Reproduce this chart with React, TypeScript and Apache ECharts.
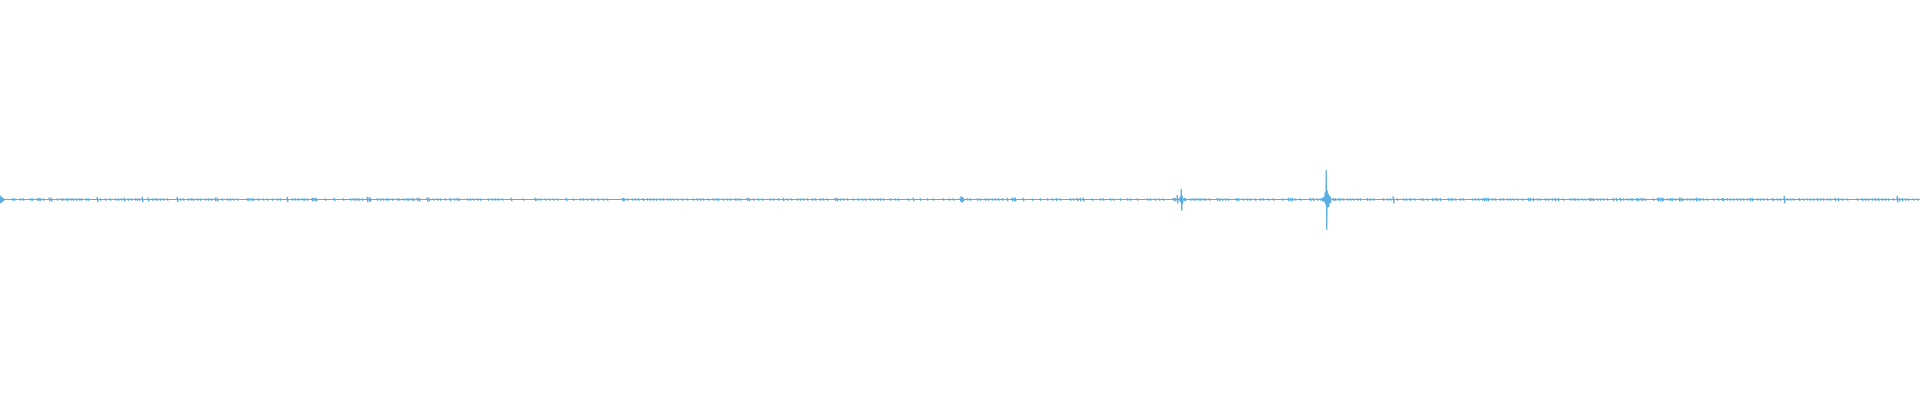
import React, { useEffect, useRef } from 'react';
import * as echarts from 'echarts';

// small blips, swing of about one pixel each way (x in samples)
const tinyBlips = [
  12, 14, 20, 23, 30, 32, 37, 38, 39, 40, 43, 57, 61, 63, 66, 68, 71, 73, 76, 79, 81, 86, 88,
  100, 105, 110, 115, 118, 121, 128, 131, 135, 137, 139, 152, 155, 157, 160, 163, 167, 180,
  183, 188, 191, 193, 197, 200, 205, 208, 211, 222, 227, 230, 233, 237, 247, 248, 250, 252,
  253, 258, 263, 267, 272, 277, 280, 292, 295, 298,
  302, 304, 307, 325, 343, 350, 353, 355, 357, 359, 362, 377, 380, 383, 386, 388, 392, 397,
  399, 403, 406, 408, 411, 433, 437, 440, 445, 454, 459, 467, 470, 473, 477, 480, 488, 492,
  495, 498, 502, 523, 537, 540, 545, 549, 553, 557, 573, 580, 583, 587, 591, 593, 598,
  603, 607, 622, 624, 627, 632, 635, 638, 647, 650, 653, 656, 660, 663, 667, 670, 673, 677,
  682, 687, 693, 697, 700, 703, 708, 713, 716, 718, 723, 727, 730, 735, 737, 740, 753, 758,
  762, 770, 773, 778, 787, 791, 797, 800, 803, 807, 812, 815, 820, 823, 827, 840, 843, 847,
  853, 858, 862, 865, 870, 873, 877, 880, 883, 890, 895, 898,
  908, 920, 927, 933, 943, 949, 953, 967, 970, 977, 980, 985, 988, 992, 995, 998, 1002, 1032,
  1040, 1047, 1052, 1060, 1070, 1073, 1092, 1100, 1103, 1110, 1113, 1120, 1127, 1130, 1137,
  1147, 1150, 1155, 1159, 1163, 1179, 1190, 1193, 1195, 1198, 1200, 1203, 1205, 1209, 1222,
  1225, 1228, 1243, 1247, 1250, 1255, 1260, 1263, 1268, 1273, 1282, 1295, 1300, 1317, 1320,
  1338, 1340, 1343, 1347, 1350, 1353, 1357, 1360, 1370, 1373, 1383, 1387, 1390, 1397,
  1403, 1406, 1414, 1421, 1423, 1427, 1448, 1450, 1452, 1455, 1460, 1463, 1472, 1475, 1478,
  1482, 1492, 1495, 1500, 1503, 1507, 1510, 1513, 1517, 1522, 1537, 1540, 1545, 1548, 1552,
  1563, 1570, 1573, 1575, 1578, 1582, 1585, 1597, 1600, 1603, 1607, 1623, 1627,
  1630, 1632, 1643, 1645, 1653, 1657, 1663, 1667, 1675, 1683, 1687, 1690, 1693, 1698, 1700,
  1703, 1707, 1713, 1718, 1727, 1730, 1733, 1737, 1740, 1743, 1747, 1757, 1760, 1763, 1767,
  1772, 1773, 1777, 1780, 1787, 1790, 1793, 1803, 1807, 1810, 1813, 1820, 1823, 1827, 1830,
  1842, 1847, 1857, 1865, 1868, 1872, 1882, 1885, 1888, 1893, 1905, 1908, 1913, 1917,
];
const tinyAmp = 0.6;

// larger swings: [x, up, down]
const peaks = [
  [0, 2, 2], [1, 1.5, 1.5], [2, 1, 1], [3, 0.7, 0.7], [49, 1, 1], [51, 1, 1], [97, 1.35, 1.35],
  [124, 1, 1], [142, 1.35, 1.35], [148, 1, 1], [177, 1.35, 1.35], [215, 1, 1], [217, 1, 1],
  [287, 1.35, 1.35],
  [312, 0.85, 0.85], [313, 0.85, 0.85], [315, 0.85, 0.85], [316, 0.85, 0.85], [334, 0.85, 0.85],
  [367, 1.35, 1.35], [369, 1.2, 1.2], [370, 0.85, 0.85], [413, 0.85, 0.85], [417, 0.85, 0.85],
  [419, 1, 1], [427, 1.2, 1.2], [429, 0.85, 0.85], [450, 0.85, 0.85], [457, 0.85, 0.85],
  [511, 0.85, 0.85], [535, 0.85, 0.85], [566, 0.85, 0.85],
  [623, 0.85, 0.85], [643, 0.7, 0.7], [747, 0.85, 0.85], [749, 0.85, 0.85], [783, 0.85, 0.85],
  [835, 0.85, 0.85], [837, 0.85, 0.85],
  [913, 1, 1], [960, 1, 1], [961, 1.65, 1.65], [962, 1.2, 1.2], [963, 0.85, 0.85],
  [1007, 0.85, 0.85], [1012, 1, 1], [1014, 1, 1], [1015, 0.85, 0.85], [1023, 0.85, 0.85],
  [1056, 0.65, 0.65], [1077, 0.85, 0.85], [1080, 0.85, 0.85], [1083, 1, 1],
  [1173, 0.85, 0.85], [1175, 0.85, 0.85], [1177, 2.3, 2], [1180, 1.5, 1.5], [1181, 5.2, 5.6],
  [1182, 2, 2], [1184, 0.65, 0.65], [1185, 0.65, 0.65], [1217, 0.65, 0.65], [1219, 0.65, 0.65],
  [1236, 0.65, 0.65], [1238, 0.65, 0.65], [1288, 0.85, 0.85], [1290, 0.85, 0.85],
  [1292, 0.85, 0.85], [1310, 0.85, 0.85], [1313, 0.85, 0.85], [1322, 0.85, 0.85],
  [1323, 1, 1], [1324, 1.5, 1.5], [1325, 3.8, 2.5], [1326, 14.8, 15.2], [1327, 4.5, 4],
  [1328, 3, 3.8], [1329, 2, 2], [1330, 1.5, 1.5], [1333, 0.65, 0.65], [1335, 0.65, 0.65],
  [1367, 0.65, 0.65], [1393, 1.65, 2],
  [1410, 0.65, 0.65], [1432, 0.65, 0.65], [1435, 0.65, 0.65], [1437, 0.65, 0.65],
  [1440, 0.65, 0.65], [1484, 0.85, 0.85], [1486, 0.85, 0.85], [1488, 0.85, 0.85],
  [1528, 0.85, 0.85], [1530, 0.85, 0.85], [1533, 0.85, 0.85], [1555, 0.85, 0.85],
  [1558, 0.85, 0.85], [1589, 0.65, 0.65], [1591, 0.65, 0.65], [1593, 0.65, 0.65],
  [1613, 0.85, 0.85], [1616, 0.85, 0.85], [1620, 0.85, 0.85],
  [1636, 0.65, 0.65], [1638, 0.65, 0.65], [1641, 0.85, 0.85], [1658, 1, 1], [1660, 1, 1],
  [1662, 1, 1], [1670, 0.65, 0.65], [1672, 0.65, 0.65], [1679, 1, 1], [1681, 1, 1],
  [1696, 1, 1], [1722, 0.65, 0.65], [1723, 0.65, 0.65], [1750, 0.85, 0.85], [1752, 0.85, 0.85],
  [1784, 1.85, 1.85], [1799, 0.65, 0.65], [1817, 0.65, 0.65], [1835, 0.85, 0.85],
  [1838, 0.85, 0.85], [1862, 0.65, 0.65], [1875, 0.65, 0.65], [1878, 0.65, 0.65],
  [1897, 1.85, 1.5], [1899, 0.85, 0.85], [1902, 0.85, 0.85],
];

const sampleCount = 1920;
const lineColor = '#5aade3';

const App: React.FC = () => {
  const chartRef = useRef<HTMLDivElement>(null);

  useEffect(() => {
    if (!chartRef.current) return;
    const chart = echarts.init(chartRef.current, undefined, { renderer: 'svg' });

    // merge blips, peaks win on the same sample
    const byX = new Map<number, number[]>();
    tinyBlips.forEach(x => byX.set(x, [x, tinyAmp, tinyAmp]));
    peaks.forEach(p => byX.set(p[0], p));
    const blips = Array.from(byX.values()).sort((a, b) => a[0] - b[0]);

    // each blip swings up then down around the baseline
    const data: number[][] = [];
    blips.forEach(([x, up, down]) => {
      data.push([x, 0], [x + 0.25, up], [x + 0.75, -down], [x + 1, 0]);
    });
    data.push([sampleCount, 0]);

    chart.setOption({
      animation: false,
      grid: { left: 0, right: 0, top: 0, bottom: 1 },
      xAxis: { type: 'value', min: 0, max: sampleCount, show: false },
      yAxis: { type: 'value', min: -100, max: 100, show: false },
      series: [{
        type: 'line',
        data,
        symbol: 'none',
        lineStyle: { color: lineColor, width: 1.2 },
      }],
    });

    return () => {
      chart.dispose();
    };
  }, []);

  return (
    <div
      ref={chartRef}
      style={{ position: 'fixed', left: 0, top: 0, width: '100vw', height: '400px', background: '#fff' }}
    />
  );
};

export default App;
